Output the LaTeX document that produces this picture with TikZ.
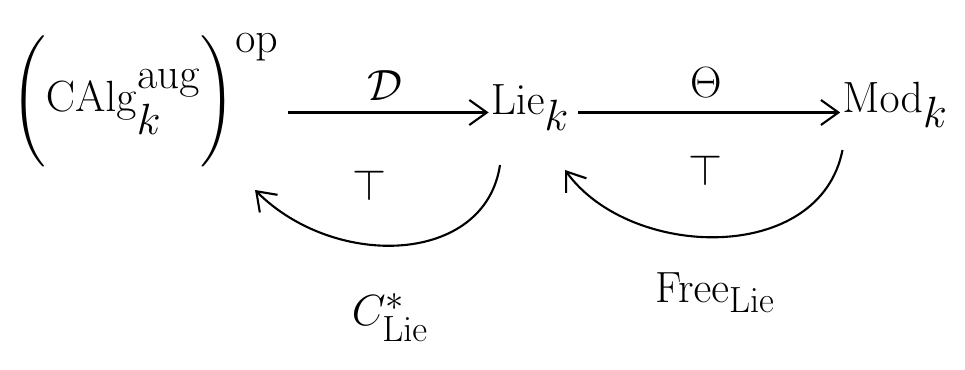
\documentclass[tikz,border=0pt]{standalone}
\usepackage{amsmath}
\usetikzlibrary{arrows.meta,positioning,calc}
\tikzset{
  catnode/.style={inner sep=1pt, font=\fontsize{40}{46}\selectfont},
  maplabel/.style={inner sep=2pt, font=\fontsize{32}{38}\selectfont},
  maparrow/.style={-{Straight Barb[length=3.5mm, width=5mm]}, line width=1.2pt}
}
\begin{document}
\begin{tikzpicture}
  \useasboundingbox (0,0) rectangle (19.3,7.4);
  % objects
  \node[catnode] (calg) at (2.9,5.4) {$\Biggl(\mathrm{CAlg}^{\mathrm{aug}}_k\Biggr)^{\mathrm{op}}$};
  \node[catnode] (lie) at (10.6,5.25) {$\mathrm{Lie}_k$};
  \node[catnode] (mod) at (17.9,5.3) {$\mathrm{Mod}_k$};
  % straight maps
  \draw[maparrow, shorten <=4pt] (calg.east |- 0,5.15) -- node[maplabel, above=4pt]{$\mathcal{D}$} (lie.west |- 0,5.15);
  \draw[maparrow, shorten <=4pt] (lie.east |- 0,5.15) -- node[maplabel, above=6pt]{$\Theta$} (mod.west |- 0,5.15);
  % adjunction signs
  \node[maplabel] (adj1) at (7.4,3.7) {$\top$};
  \node[maplabel] (adj2) at (14.1,4.0) {$\top$};
  % curved maps back
  \coordinate (tip1) at (5.1,3.6);
  \coordinate (tip2) at (11.3,4.0);
  \coordinate (src1) at (10.0,4.1);
  \coordinate (src2) at (16.85,4.4);
  \draw[maparrow] (src1) .. controls (9.7,2.1) and (6.7,2.0) .. (tip1);
  \draw[maparrow] (src2) .. controls (16.4,2.1) and (12.6,2.2) .. (tip2);
  \node[maplabel] (cstar) at (7.8,1.05) {$C^{*}_{\mathrm{Lie}}$};
  \node[maplabel] (free) at (14.3,1.55) {$\mathrm{Free}_{\mathrm{Lie}}$};
\end{tikzpicture}
\end{document}
